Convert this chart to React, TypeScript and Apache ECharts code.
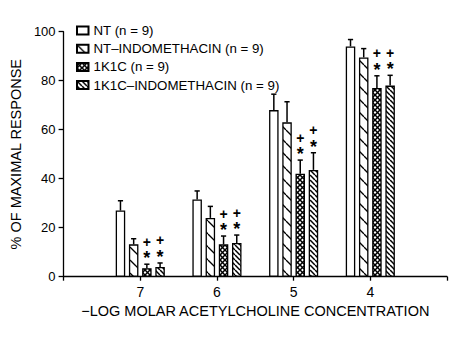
import React, { useEffect, useRef } from "react";
import * as echarts from "echarts";

const concentrations = ["7", "6", "5", "4"];
const axisCategories = ["", ...concentrations, ""];
const seriesNames = [
  "NT (n = 9)",
  "NT\u2013INDOMETHACIN (n = 9)",
  "1K1C (n = 9)",
  "1K1C\u2013INDOMETHACIN (n = 9)",
];
const ntMean = [27, 31.5, 68, 94];
const ntErr = [4, 3.5, 6.5, 2.8];
const ntIndoMean = [13.2, 24, 63, 89.5];
const ntIndoErr = [2.3, 4.7, 8.4, 3.6];
const k1cMean = [3.5, 13.2, 42, 77];
const k1cErr = [1.6, 3.4, 5.6, 5];
const k1cIndoMean = [4, 13.8, 43.6, 78];
const k1cIndoErr = [1.6, 3.2, 7, 4.2];
const starFlags = [
  [0, 0, 0, 0],
  [0, 0, 0, 0],
  [1, 1, 1, 1],
  [1, 1, 1, 1],
];
const plusFlags = [
  [0, 0, 0, 0],
  [0, 0, 0, 0],
  [1, 1, 1, 1],
  [1, 1, 1, 1],
];
const yMin = 0;
const yMax = 100;
const yInterval = 20;
const xAxisName = "\u2212LOG MOLAR ACETYLCHOLINE CONCENTRATION";
const yAxisName = "% OF MAXIMAL RESPONSE";

const means = [ntMean, ntIndoMean, k1cMean, k1cIndoMean];
const errs = [ntErr, ntIndoErr, k1cErr, k1cIndoErr];

const FONT = "'Liberation Sans', Arial, Helvetica, sans-serif";
const BAR_W = 9.5;
const BAR_GAP = 0.39;
const BAR_STEP = BAR_W * (1 + BAR_GAP);

function makeHatch(size: number, lw: number, back: boolean, fwd: boolean) {
  const c = document.createElement("canvas");
  c.width = size;
  c.height = size;
  const ctx = c.getContext("2d")!;
  ctx.fillStyle = "#fff";
  ctx.fillRect(0, 0, size, size);
  ctx.strokeStyle = "#000";
  ctx.lineWidth = lw;
  for (let k = -1; k <= 1; k++) {
    if (back) {
      ctx.beginPath();
      ctx.moveTo(k * size, 0);
      ctx.lineTo(k * size + size, size);
      ctx.stroke();
    }
    if (fwd) {
      ctx.beginPath();
      ctx.moveTo(k * size + size, 0);
      ctx.lineTo(k * size, size);
      ctx.stroke();
    }
  }
  return c;
}

function pattern(c: HTMLCanvasElement) {
  return { image: c, repeat: "repeat", imageWidth: c.width, imageHeight: c.height } as any;
}

export default function App() {
  const ref = useRef<HTMLDivElement>(null);
  useEffect(() => {
    if (!ref.current) return;
    const chart = echarts.init(ref.current, undefined, { renderer: "svg" });
    const fills: any[] = [
      "#fff",
      pattern(makeHatch(13, 1.3, true, false)),
      pattern(makeHatch(5, 1.5, true, true)),
      pattern(makeHatch(5, 1.5, true, false)),
    ];
    const barSeries = seriesNames.map((name, s) => ({
      type: "bar",
      name,
      barWidth: BAR_W,
      barGap: `${BAR_GAP * 100}%`,
      itemStyle: { color: fills[s], borderColor: "#000", borderWidth: 1.3 },
      data: concentrations.map((c, i) => [c, means[s][i]]),
    }));
    const errData: any[] = [];
    seriesNames.forEach((_, s) => {
      concentrations.forEach((c, i) => {
        errData.push([c, means[s][i], errs[s][i], s, starFlags[s][i], plusFlags[s][i]]);
      });
    });
    const errSeries = {
      type: "custom",
      name: "err",
      z: 5,
      data: errData,
      encode: { x: 0, y: 1 },
      renderItem: (_params: any, api: any) => {
        const ci = api.value(0);
        const m = api.value(1);
        const e = api.value(2);
        const s = api.value(3);
        const base = api.coord([ci, m]);
        const top = api.coord([ci, m + e]);
        const x = base[0] + (s - 1.5) * BAR_STEP;
        const st = { stroke: "#000", lineWidth: 1.5 };
        const children: any[] = [
          { type: "line", shape: { x1: x, y1: base[1], x2: x, y2: top[1] }, style: st },
          { type: "line", shape: { x1: x - 2.6, y1: top[1], x2: x + 2.6, y2: top[1] }, style: st },
        ];
        if (api.value(4)) {
          children.push({
            type: "text",
            x,
            y: top[1] - 6,
            style: {
              text: "*",
              font: `bold 18px ${FONT}`,
              fill: "#000",
              align: "center",
              verticalAlign: "middle",
            },
          });
        }
        if (api.value(5)) {
          children.push({
            type: "text",
            x,
            y: top[1] - 22.5,
            style: {
              text: "+",
              font: `bold 14px ${FONT}`,
              fill: "#000",
              align: "center",
              verticalAlign: "middle",
            },
          });
        }
        return { type: "group", children };
      },
    };
    chart.setOption({
      animation: false,
      backgroundColor: "#fff",
      textStyle: { fontFamily: FONT, color: "#000" },
      grid: { left: 61, top: 31.7, right: -8.5, bottom: 65.3 },
      legend: {
        data: seriesNames.map((n) => ({ name: n, icon: "rect" })),
        orient: "vertical",
        left: 76,
        top: 24,
        padding: 0,
        itemWidth: 11.5,
        itemHeight: 8,
        itemGap: 5.2,
        itemTextGap: 14,
        selectedMode: false,
        textStyle: { fontFamily: FONT, fontSize: 13.3, color: "#000", lineHeight: 13 },
      },
      xAxis: {
        type: "category",
        data: axisCategories,
        boundaryGap: false,
        axisLine: { lineStyle: { color: "#000", width: 1.3 } },
        axisTick: { show: true, length: 4, lineStyle: { color: "#000", width: 1.3 } },
        axisLabel: { fontFamily: FONT, fontSize: 14, color: "#000", margin: 8 },
        splitLine: { show: false },
        name: xAxisName,
        nameLocation: "middle",
        nameGap: 27,
        nameTextStyle: { fontFamily: FONT, fontSize: 14.5, color: "#000" },
      },
      yAxis: {
        type: "value",
        min: yMin,
        max: yMax,
        interval: yInterval,
        axisLine: { show: true, lineStyle: { color: "#000", width: 1.3 } },
        axisTick: { show: true, length: 5, lineStyle: { color: "#000", width: 1.3 } },
        axisLabel: { fontFamily: FONT, fontSize: 13, color: "#000", margin: 8 },
        splitLine: { show: false },
        name: yAxisName,
        nameLocation: "middle",
        nameGap: 29,
        nameTextStyle: { fontFamily: FONT, fontSize: 14.5, color: "#000" },
      },
      series: [...barSeries, errSeries],
    });
    return () => chart.dispose();
  }, []);
  return (
    <div
      ref={ref}
      style={{ position: "fixed", left: 0, top: 0, width: 450, height: 342 }}
    />
  );
}
